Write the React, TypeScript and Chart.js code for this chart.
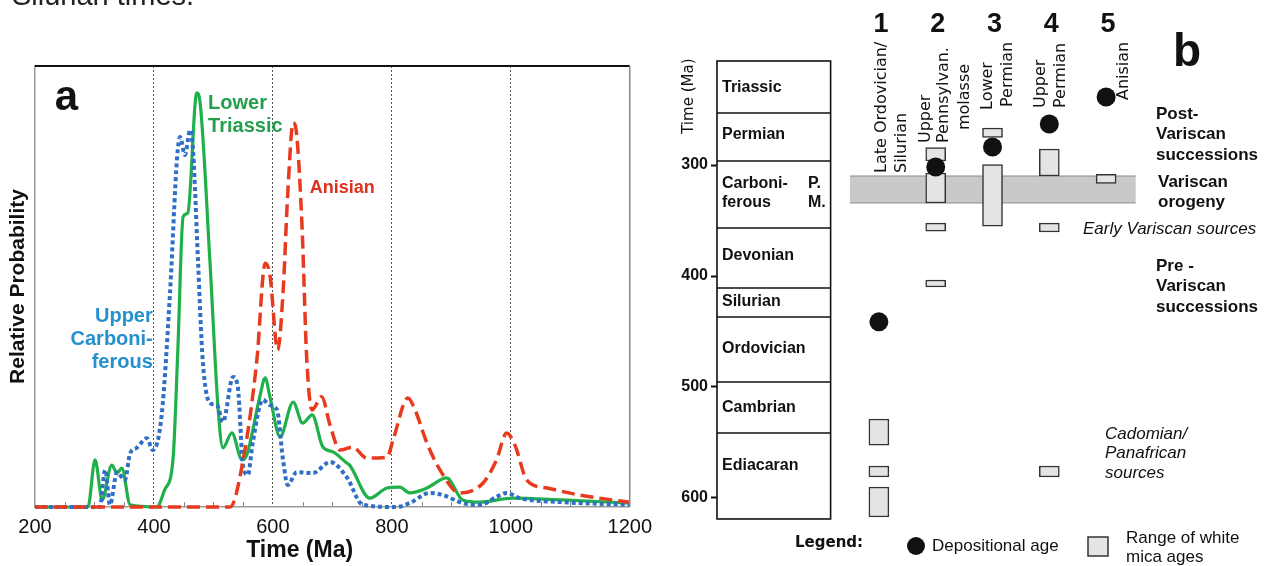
import React, { useEffect, useRef } from 'react';
import { Chart, registerables } from 'chart.js';
Chart.register(...registerables);

// ---------- Panel a: relative probability curves ----------
const X_TICKS = [200, 400, 600, 800, 1000, 1200];

const GREEN_T = [200, 289, 301, 313, 329, 338, 346, 360, 405, 418, 432, 440, 449, 457, 472, 477, 494, 508, 516, 531, 548, 556, 578, 587, 595, 612, 634, 650, 666, 684, 701, 724, 729, 763, 792, 813, 830, 859, 892, 919, 948, 1003, 1087, 1200];
const GREEN_P = [0, 0, 10.7, 1.6, 9.5, 7.7, 8.8, 0.5, 0, 3.9, 10.7, 35, 65.8, 66.7, 93.9, 92.3, 56, 22, 13.4, 16.8, 10.7, 11.8, 25, 29.3, 25, 15.9, 23.8, 19, 20.9, 13.6, 12.5, 10, 9.5, 2, 4.3, 4.5, 3.2, 4.3, 6.6, 1.6, 1.1, 2, 1.6, 0.9];

const BLUE_T = [200, 309, 318, 326, 338, 351, 360, 371, 388, 398, 413, 427, 439, 444, 452, 461, 466, 474, 482, 494, 506, 516, 533, 541, 550, 558, 566, 583, 595, 607, 617, 625, 640, 667, 696, 724, 751, 808, 830, 864, 886, 919, 948, 976, 993, 1015, 1087, 1200];
const BLUE_P = [0, 0, 8.4, 0.5, 7.9, 6.1, 12.2, 13.4, 15.6, 12.9, 20.9, 48.5, 79.4, 83.9, 79.8, 85.5, 80.3, 56, 33.3, 23.6, 23.1, 19.3, 29.5, 27.2, 9.1, 7.3, 14.5, 24.3, 23.1, 22, 10.7, 5, 7.9, 7.7, 10.2, 6.8, 0.5, 0, 0.9, 3.2, 2.7, 0.9, 0.5, 2.3, 3.2, 2, 1.1, 0.5];

const RED_T = [200, 528, 550, 573, 587, 595, 608, 617, 625, 634, 640, 649, 657, 666, 682, 696, 713, 734, 758, 792, 802, 827, 839, 859, 881, 914, 953, 976, 993, 1007, 1027, 1061, 1116, 1171, 1200];
const RED_P = [0, 0, 10.7, 33.3, 55.3, 52.6, 35.6, 48.5, 71.2, 87.1, 84.4, 63.5, 33.3, 22, 25, 18.6, 12.9, 13.6, 11.1, 11.3, 15.2, 24.7, 22, 14.5, 8.4, 3.2, 5.4, 10.7, 16.8, 14, 6.1, 4.3, 2.7, 1.6, 1.1];

// ---------- Panel b: stratigraphy and white mica ages ----------
const TIME_TICKS = [300, 400, 500, 600];
const STRAT_BOUNDS = [206.3, 253.2, 296.4, 356.8, 410.8, 436.9, 495.5, 541.4, 618.9];
const STRAT_NAMES = [['Triassic'], ['Permian'], ['Carboni-', 'ferous'], ['Devonian'], ['Silurian'], ['Ordovician'], ['Cambrian'], ['Ediacaran']];
const STRAT_LABEL_MA = [230.6, 273, 325.7, 382, 423.4, 465.8, 518.9, 571.2];
const STRAT_X = [-1.85, 0.15];
const VARISCAN_MA = [309.9, 334.2];
const VARISCAN_X = [0.49, 5.52];

const COLS = [1, 2, 3, 4, 5];
const COL_LABELS = [['Late Ordovician/', 'Silurian'], ['Upper', 'Pennsylvan.', 'molasse'], ['Lower', 'Permian'], ['Upper', 'Permian'], ['Anisian']];

const DEP_COL = [1, 2, 3, 4, 5];
const DEP_AGE = [441.3, 301.8, 283.8, 263, 238.7];

const MICA_COL = [1, 1, 1, 2, 2, 2, 2, 3, 3, 4, 4, 4, 5];
const MICA_MIN = [528.8, 571.2, 590.1, 284.2, 307.2, 352.3, 403.6, 266.7, 299.6, 285.6, 352.3, 571.2, 308.5];
const MICA_MAX = [552.3, 581.1, 617.1, 296.4, 334.2, 359.5, 409.9, 275.2, 355.0, 309.9, 360.4, 581.1, 316.6];

const FA = '"Liberation Sans", Arial, sans-serif';
const FG = '"DejaVu Sans", sans-serif';
const OFFSET_B = 660;

const toXY = (t: number[], p: number[]) => t.map((v, i) => ({ x: v, y: p[i] }));

const panelAPlugin = {
  id: 'panelA',
  beforeDatasetsDraw(chart: any) {
    const { ctx, chartArea: ca, scales } = chart;
    const x = scales.x;
    ctx.save();
    ctx.strokeStyle = '#888';
    ctx.lineWidth = 1;
    for (let v = 250; v < 1200; v += 50) {
      if (v % 200 === 0) continue;
      const px = Math.round(x.getPixelForValue(v)) + 0.5;
      ctx.beginPath();
      ctx.moveTo(px, ca.bottom);
      ctx.lineTo(px, ca.bottom - 5);
      ctx.stroke();
    }
    ctx.restore();
  },
  afterDraw(chart: any) {
    const { ctx, chartArea: ca, scales } = chart;
    const x = scales.x, y = scales.y;
    ctx.save();
    // frame
    ctx.strokeStyle = '#111';
    ctx.lineWidth = 2;
    ctx.beginPath();
    ctx.moveTo(ca.left, ca.top);
    ctx.lineTo(ca.right, ca.top);
    ctx.stroke();
    ctx.strokeStyle = '#888';
    ctx.lineWidth = 1.5;
    ctx.beginPath();
    ctx.moveTo(ca.right, ca.top);
    ctx.lineTo(ca.right, ca.bottom);
    ctx.stroke();

    // cut-off caption text at the top
    ctx.fillStyle = '#222';
    ctx.font = `29px ${FA}`;
    ctx.textAlign = 'left';
    ctx.textBaseline = 'alphabetic';
    ctx.fillText('Silurian times.', 12, 5);

    // panel letter
    ctx.fillStyle = '#111';
    ctx.font = `bold 42px ${FA}`;
    ctx.fillText('a', x.getPixelForValue(233), y.getPixelForValue(90));

    // series labels
    ctx.textBaseline = 'middle';
    ctx.font = `bold 20px ${FA}`;
    ctx.fillStyle = '#22a04e';
    ctx.fillText('Lower', x.getPixelForValue(491), y.getPixelForValue(91.6));
    ctx.fillText('Triassic', x.getPixelForValue(491), y.getPixelForValue(86.2));
    ctx.font = `bold 18px ${FA}`;
    ctx.fillStyle = '#e0301e';
    ctx.fillText('Anisian', x.getPixelForValue(662), y.getPixelForValue(72.3));
    ctx.font = `bold 20px ${FA}`;
    ctx.fillStyle = '#2590cc';
    ctx.textAlign = 'right';
    ctx.fillText('Upper', x.getPixelForValue(398), y.getPixelForValue(43.1));
    ctx.fillText('Carboni-', x.getPixelForValue(398), y.getPixelForValue(37.9));
    ctx.fillText('ferous', x.getPixelForValue(398), y.getPixelForValue(32.7));

    // x axis title
    ctx.fillStyle = '#111';
    ctx.textAlign = 'center';
    ctx.font = `bold 23px ${FA}`;
    ctx.fillText('Time (Ma)', x.getPixelForValue(645), 551);
    ctx.restore();
  },
};

const panelBPlugin = {
  id: 'panelB',
  beforeDatasetsDraw(chart: any) {
    const { ctx, scales } = chart;
    const x = scales.x, y = scales.y;
    ctx.save();
    // Variscan orogeny band
    const bx1 = x.getPixelForValue(VARISCAN_X[0]);
    const bx2 = x.getPixelForValue(VARISCAN_X[1]);
    const by1 = y.getPixelForValue(VARISCAN_MA[0]);
    const by2 = y.getPixelForValue(VARISCAN_MA[1]);
    ctx.fillStyle = '#c9c9c9';
    ctx.fillRect(bx1, by1, bx2 - bx1, by2 - by1);
    ctx.strokeStyle = '#8c8c8c';
    ctx.lineWidth = 1;
    ctx.beginPath();
    ctx.moveTo(bx1, by1);
    ctx.lineTo(bx2, by1);
    ctx.moveTo(bx1, by2);
    ctx.lineTo(bx2, by2);
    ctx.stroke();

    // stratigraphic column
    const sx1 = x.getPixelForValue(STRAT_X[0]);
    const sx2 = x.getPixelForValue(STRAT_X[1]);
    const top = y.getPixelForValue(STRAT_BOUNDS[0]);
    const bot = y.getPixelForValue(STRAT_BOUNDS[STRAT_BOUNDS.length - 1]);
    ctx.strokeStyle = '#111';
    ctx.lineWidth = 1.6;
    ctx.strokeRect(sx1, top, sx2 - sx1, bot - top);
    ctx.beginPath();
    for (let i = 1; i < STRAT_BOUNDS.length - 1; i++) {
      const py = y.getPixelForValue(STRAT_BOUNDS[i]);
      ctx.moveTo(sx1, py);
      ctx.lineTo(sx2, py);
    }
    ctx.stroke();

    ctx.fillStyle = '#111';
    ctx.font = `bold 16px ${FA}`;
    ctx.textAlign = 'left';
    ctx.textBaseline = 'middle';
    STRAT_NAMES.forEach((lines, i) => {
      const cy = y.getPixelForValue(STRAT_LABEL_MA[i]);
      const n = lines.length;
      lines.forEach((ln, j) => {
        const ly = cy + (j - (n - 1) / 2) * 19;
        ctx.fillText(ln, sx1 + 5, ly);
        if (n === 2) ctx.fillText(j === 0 ? 'P.' : 'M.', sx1 + 91, ly);
      });
    });
    ctx.restore();
  },
  afterDatasetsDraw(chart: any) {
    const { ctx, chartArea: ca, scales } = chart;
    const x = scales.x, y = scales.y;
    ctx.save();
    ctx.fillStyle = '#111';

    // y axis title (rotated)
    ctx.save();
    ctx.translate(ca.left - 28, y.getPixelForValue(238));
    ctx.rotate(-Math.PI / 2);
    ctx.font = `15px ${FG}`;
    ctx.textAlign = 'center';
    ctx.textBaseline = 'middle';
    ctx.fillText('Time (Ma)', 0, 0);
    ctx.restore();

    // column numbers
    ctx.font = `bold 27px ${FA}`;
    ctx.textAlign = 'center';
    ctx.textBaseline = 'alphabetic';
    COLS.forEach((c) => ctx.fillText(String(c), x.getPixelForValue(c) + 2, 32));

    // rotated column labels
    const offs = [[3, 23], [-9.5, 8.5, 29.5], [-5, 15], [-8, 12], [18]];
    const bottoms = [[173, 173], [143, 143, 130], [110, 107], [108, 108], [100]];
    ctx.font = `16px ${FG}`;
    COL_LABELS.forEach((lines, i) => {
      const cx = x.getPixelForValue(COLS[i]);
      lines.forEach((ln, j) => {
        ctx.save();
        ctx.translate(cx + offs[i][j], bottoms[i][j]);
        ctx.rotate(-Math.PI / 2);
        ctx.textAlign = 'left';
        ctx.textBaseline = 'middle';
        ctx.fillText(ln, 0, 0);
        ctx.restore();
      });
    });

    // page-coordinate annotations
    ctx.translate(-OFFSET_B, 0);
    ctx.textAlign = 'left';
    ctx.textBaseline = 'middle';
    ctx.font = `bold 17px ${FA}`;
    ['Post-', 'Variscan', 'successions'].forEach((t, i) => ctx.fillText(t, 1156, 114 + i * 20.5));
    ['Variscan', 'orogeny'].forEach((t, i) => ctx.fillText(t, 1158, 182 + i * 20.5));
    ['Pre -', 'Variscan', 'successions'].forEach((t, i) => ctx.fillText(t, 1156, 266 + i * 20.5));
    ctx.font = `italic 17px ${FA}`;
    ctx.fillText('Early Variscan sources', 1083, 229);
    ['Cadomian/', 'Panafrican', 'sources'].forEach((t, i) => ctx.fillText(t, 1105, 434 + i * 19.5));

    // panel letter
    ctx.font = `bold 46px ${FA}`;
    ctx.textBaseline = 'alphabetic';
    ctx.fillText('b', 1173, 66);

    // legend
    ctx.textBaseline = 'middle';
    ctx.font = `bold 15px ${FG}`;
    ctx.fillText('Legend:', 795, 543);
    ctx.beginPath();
    ctx.arc(916, 546, 9, 0, Math.PI * 2);
    ctx.fill();
    ctx.font = `17px ${FA}`;
    ctx.fillText('Depositional age', 932, 546);
    ctx.fillStyle = '#e4e4e4';
    ctx.fillRect(1088, 537, 20, 19);
    ctx.strokeStyle = '#333';
    ctx.lineWidth = 1.5;
    ctx.strokeRect(1088, 537, 20, 19);
    ctx.fillStyle = '#111';
    ctx.fillText('Range of white', 1126, 538);
    ctx.fillText('mica ages', 1126, 557);
    ctx.restore();
  },
};

export default function App() {
  const refA = useRef<HTMLCanvasElement>(null);
  const refB = useRef<HTMLCanvasElement>(null);

  useEffect(() => {
    const chartA = new Chart(refA.current as HTMLCanvasElement, {
      type: 'line',
      data: {
        datasets: [
          {
            label: 'Anisian',
            data: toXY(RED_T, RED_P),
            borderColor: '#e83a1e',
            borderWidth: 3.5,
            borderDash: [13, 6],
            pointRadius: 0,
            cubicInterpolationMode: 'monotone',
            fill: false,
            clip: false,
            order: 1,
          },
          {
            label: 'Upper Carboniferous',
            data: toXY(BLUE_T, BLUE_P),
            borderColor: '#2f6fc6',
            borderWidth: 4,
            borderDash: [4, 3],
            pointRadius: 0,
            cubicInterpolationMode: 'monotone',
            fill: false,
            clip: false,
            order: 2,
          },
          {
            label: 'Lower Triassic',
            data: toXY(GREEN_T, GREEN_P),
            borderColor: '#1fb04a',
            borderWidth: 3.2,
            pointRadius: 0,
            cubicInterpolationMode: 'monotone',
            fill: false,
            clip: false,
            order: 3,
          },
        ],
      } as any,
      options: {
        animation: false,
        responsive: false,
        layout: { padding: { top: 66, right: 29, left: 0, bottom: 0 } },
        plugins: { legend: { display: false }, tooltip: { enabled: false } },
        scales: {
          x: {
            type: 'linear',
            min: 200,
            max: 1200,
            afterBuildTicks: (s: any) => { s.ticks = X_TICKS.map((v) => ({ value: v })); },
            afterFit: (s: any) => { s.height = 59; },
            ticks: {
              font: { family: FA, size: 20 },
              color: '#111',
              padding: 8,
              maxRotation: 0,
              callback: (v: any) => String(v),
            },
            grid: {
              color: (c: any) => (c.tick && (c.tick.value === 200 || c.tick.value === 1200) ? 'rgba(0,0,0,0)' : '#555'),
              lineWidth: 1,
              drawTicks: false,
            },
            border: { display: true, color: '#999', width: 1.5, dash: [2, 2] },
          },
          y: {
            type: 'linear',
            min: 0,
            max: 100,
            afterFit: (s: any) => { s.width = 35; },
            ticks: { display: false },
            grid: { display: false, drawTicks: false },
            border: { display: true, color: '#999', width: 1.5 },
            title: {
              display: true,
              text: 'Relative Probability',
              font: { family: FA, size: 21, weight: 'bold' },
              color: '#111',
              padding: { top: 6, bottom: 0 },
            },
          },
        },
      } as any,
      plugins: [panelAPlugin],
    });

    const chartB = new Chart(refB.current as HTMLCanvasElement, {
      type: 'bar',
      data: {
        datasets: [
          {
            type: 'scatter',
            label: 'Depositional age',
            data: DEP_COL.map((c, i) => ({ x: c, y: DEP_AGE[i] })),
            pointRadius: 9.5,
            backgroundColor: '#111',
            borderColor: '#111',
            borderWidth: 0,
            order: 1,
          },
          {
            type: 'bar',
            label: 'Range of white mica ages',
            data: MICA_COL.map((c, i) => ({ x: c, y: [MICA_MIN[i], MICA_MAX[i]] })),
            backgroundColor: '#e4e4e4',
            borderColor: '#333',
            borderWidth: 1.5,
            borderSkipped: false,
            barThickness: 20,
            order: 2,
          },
        ],
      } as any,
      options: {
        animation: false,
        responsive: false,
        layout: { padding: { top: 54, right: 0, left: 0, bottom: 23.6 } },
        plugins: { legend: { display: false }, tooltip: { enabled: false } },
        scales: {
          x: { type: 'linear', min: -1.85, max: 7.7, display: false, offset: false },
          y: {
            type: 'linear',
            reverse: true,
            min: 200,
            max: 640,
            afterBuildTicks: (s: any) => { s.ticks = TIME_TICKS.map((v) => ({ value: v })); },
            afterFit: (s: any) => { s.width = 57; },
            ticks: { font: { family: FA, size: 16, weight: 'bold' }, color: '#111', padding: 3 },
            grid: { drawOnChartArea: false, drawTicks: true, tickLength: 6, tickColor: '#111', tickWidth: 2 },
            border: { display: false },
          },
        },
      } as any,
      plugins: [panelBPlugin],
    });

    return () => {
      chartA.destroy();
      chartB.destroy();
    };
  }, []);

  return (
    <div style={{ position: 'absolute', left: 0, top: 0, width: 1269, height: 566, background: '#fff', overflow: 'hidden' }}>
      <canvas ref={refA} width={660} height={566} style={{ position: 'absolute', left: 0, top: 0 }} />
      <canvas ref={refB} width={609} height={566} style={{ position: 'absolute', left: OFFSET_B, top: 0 }} />
    </div>
  );
}
